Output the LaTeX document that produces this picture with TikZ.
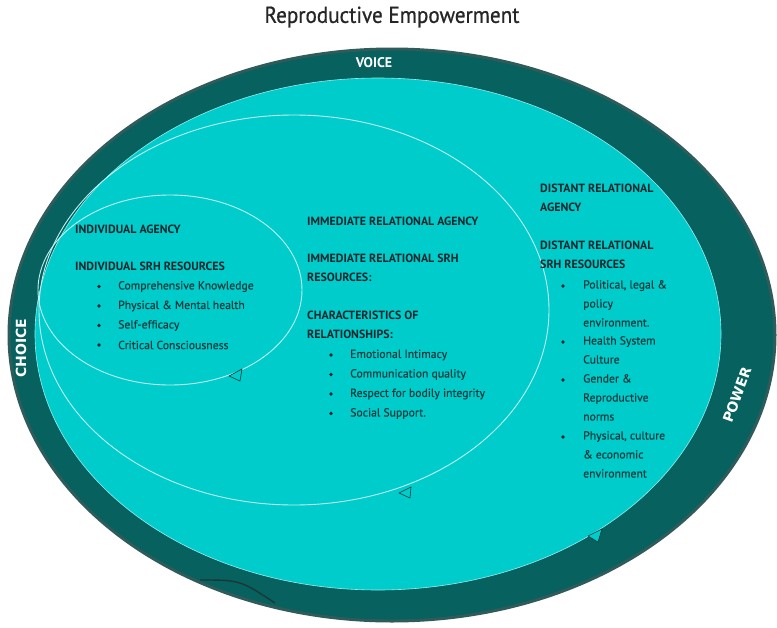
\documentclass[tikz,border=0pt]{standalone}
\usepackage{fontspec}
\setmainfont{PT Sans}
\newfontfamily\titlefont[FakeBold=0.7]{PT Sans}
\newfontfamily\itemfont[FakeBold=0.3]{PT Sans}
\newfontfamily\ringfont{DejaVu Sans}
\definecolor{ringteal}{HTML}{06615F}
\definecolor{rimgray}{HTML}{2F5B5B}
\definecolor{aqua}{HTML}{00CCCC}
\definecolor{headtxt}{HTML}{11272B}
\definecolor{itemtxt}{HTML}{0C3B3C}
\tikzset{
  head/.style={anchor=west, inner sep=0, text=headtxt, align=left, font=\bfseries\fontsize{11.9}{19}\selectfont},
  item/.style={anchor=west, inner sep=0, text=itemtxt, font=\itemfont\fontsize{11.7}{12}\selectfont},
  dot/.style={circle, fill=headtxt, inner sep=0, minimum size=3.8pt},
  ringlabel/.style={inner sep=0, text=white, font=\ringfont\bfseries\fontsize{14}{15}\selectfont},
  orbit/.style={draw=white!75!aqua, line width=0.9},
  marker/.style={draw=ringteal!60!black, fill=aqua, line width=0.6, line join=round}
}
\begin{document}
\begin{tikzpicture}[x=1pt,y=-1pt]
    \useasboundingbox[fill=white] (0,0) rectangle (777,627);

    % Outer ring and the distant relational area
    \filldraw[fill=ringteal, draw=rimgray, line width=3] (392,335) ellipse [x radius=383, y radius=286];
    \fill[aqua] (378,334) ellipse [x radius=343, y radius=256];
    \draw[white!60!aqua, line width=0.6] (378,334) ellipse [x radius=343, y radius=256];

    % Immediate and individual ellipses
    \draw[orbit] (294,310) ellipse [x radius=255, y radius=195];
    \draw[orbit] (170,290) ellipse [x radius=132, y radius=95];

    % Small markers on the ellipses
    \filldraw[marker] (229,376) -- (242,369) -- (240,381) -- cycle;
    \filldraw[marker] (399,493) -- (411,487) -- (410,498) -- cycle;
    \filldraw[marker] (588,536) -- (602,529) -- (598,542) -- cycle;

    % Dark stroke near the bottom of the ring
    \draw[rimgray!60!black, line width=1.4] (200,580) .. controls (240,580) .. (275,603);

    % Title and ring labels
    \node (title) at (392,17) [font=\titlefont\fontsize{23}{25}\selectfont, text=black!85] {\scalebox{0.92}[1]{Reproductive Empowerment}};
    \node (voice) at (374,63) [ringlabel, font=\bfseries\fontsize{14}{15}\selectfont] {VOICE};
    \node (choice) at (21,348) [ringlabel, rotate=90] {CHOICE};
    \node (power) at (737,395) [ringlabel, rotate=70] {POWER};

    % Individual level
    \node (indagency) at (75,229) [head] {INDIVIDUAL AGENCY};
    \node (indres) at (75,266) [head] {INDIVIDUAL SRH RESOURCES};
    \foreach \txt [count=\i] in {Comprehensive Knowledge, Physical \& Mental health, Self-efficacy, Critical Consciousness} {
        \node (inddot-\i) at (99,267+19.5*\i) [dot] {};
        \node (inditem-\i) at (118,267+19.5*\i) [item] {\txt};
    }

    % Immediate relational level
    \node (immagency) at (307,221) [head] {IMMEDIATE RELATIONAL AGENCY};
    \node (immres) at (307,268) [head] {IMMEDIATE RELATIONAL SRH\\RESOURCES:};
    \node (immchar) at (307,325) [head] {CHARACTERISTICS OF\\RELATIONSHIPS:};
    \foreach \txt [count=\i] in {Emotional Intimacy, Communication quality, Respect for bodily integrity, Social Support.} {
        \node (immdot-\i) at (331,335.5+19.5*\i) [dot] {};
        \node (immitem-\i) at (350,335.5+19.5*\i) [item] {\txt};
    }

    % Distant relational level
    \node (disagency) at (540,198) [head] {DISTANT RELATIONAL\\AGENCY};
    \node (disres) at (540,255) [head] {DISTANT RELATIONAL\\SRH RESOURCES};
    \node (disdot-1) at (563,286) [dot] {};
    \node (disdot-2) at (563,342) [dot] {};
    \node (disdot-3) at (563,380) [dot] {};
    \node (disdot-4) at (563,437) [dot] {};
    \node (disitem-1) at (583,286) [item, anchor=north west, yshift=6pt, align=left, font=\itemfont\fontsize{11.7}{19}\selectfont] {Political, legal \&\\policy\\environment.};
    \node (disitem-2) at (583,342) [item, anchor=north west, yshift=6pt, align=left, font=\itemfont\fontsize{11.7}{19}\selectfont] {Health System\\Culture};
    \node (disitem-3) at (583,380) [item, anchor=north west, yshift=6pt, align=left, font=\itemfont\fontsize{11.7}{19}\selectfont] {Gender \&\\Reproductive\\norms};
    \node (disitem-4) at (583,437) [item, anchor=north west, yshift=6pt, align=left, font=\itemfont\fontsize{11.7}{19}\selectfont] {Physical, culture\\\& economic\\environment};
\end{tikzpicture}
\end{document}
